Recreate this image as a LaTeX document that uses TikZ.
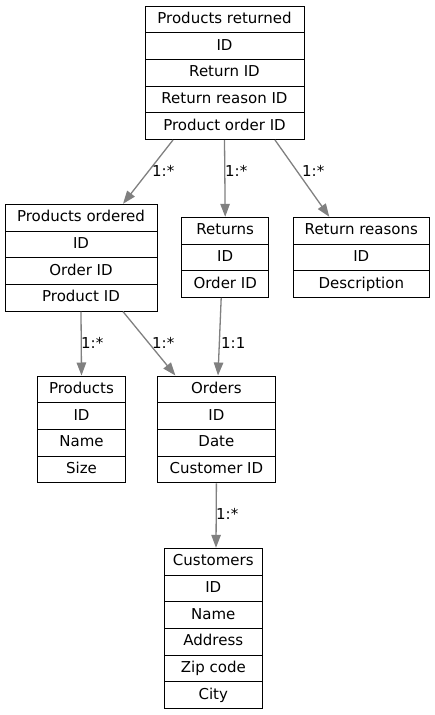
\documentclass[tikz,border=0pt]{standalone}
\usepackage{fontspec}
\setmainfont{DejaVu Sans}
\usetikzlibrary{arrows.meta}
\tikzset{
  row/.style={draw, line width=1pt, minimum height=26.7pt, inner sep=0pt,
    text height=11pt, text depth=2.6pt,
    font=\fontsize{15}{17}\selectfont},
  edge/.style={draw=gray, line width=1.3pt, -{Triangle[length=13pt,width=9.5pt]}},
  lbl/.style={anchor=west, inner sep=0pt, font=\fontsize{15}{17}\selectfont}
}
\newcommand{\rec}[5]{%
  \foreach \t [count=\i from 0] in {#5} {
    \node[row, minimum width=#4pt] (#1\i) at ({#2},{-#3-13.35-\i*26.7}) {\t};
  }}
\begin{document}
\begin{tikzpicture}[x=1pt,y=1pt]
\useasboundingbox (0,0) rectangle (435,-715);
\rec{pr}{224.5}{6}{159}{Products returned,ID,Return ID,Return reason ID,Product order ID}
\rec{po}{81}{204.3}{152}{Products ordered,ID,Order ID,Product ID}
\rec{rt}{225.2}{217.3}{86.5}{Returns,ID,Order ID}
\rec{rr}{361.3}{217.3}{136}{Return reasons,ID,Description}
\rec{pd}{81.5}{376}{88.4}{Products,ID,Name,Size}
\rec{od}{216.4}{376}{117.3}{Orders,ID,Date,Customer ID}
\rec{cu}{213.3}{548.3}{98}{Customers,ID,Name,Address,Zip code,City}
% connectors
\draw[edge] ([xshift=-51.5pt]pr4.south) -- ([xshift=42pt]po0.north);
\draw[edge] (pr4.south) -- (rt0.north);
\draw[edge] ([xshift=50.5pt]pr4.south) -- ([xshift=-32pt]rr0.north);
\draw[edge] (po3.south) -- (pd0.north);
\draw[edge] ([xshift=42pt]po3.south) -- ([xshift=-41pt]od0.north);
\draw[edge] ([xshift=-4pt]rt2.south) -- ([xshift=1.6pt]od0.north);
\draw[edge] (od3.south) -- ([xshift=2.7pt]cu0.north);
% labels
\node[lbl] (l1) at (152,-171) {1:*};
\node[lbl] (l2) at (225,-171) {1:*};
\node[lbl] (l3) at (302,-171) {1:*};
\node[lbl] (l4) at (81,-343) {1:*};
\node[lbl] (l5) at (152,-343) {1:*};
\node[lbl] (l6) at (221,-343) {1:1};
\node[lbl] (l7) at (216,-514) {1:*};
\end{tikzpicture}
\end{document}
